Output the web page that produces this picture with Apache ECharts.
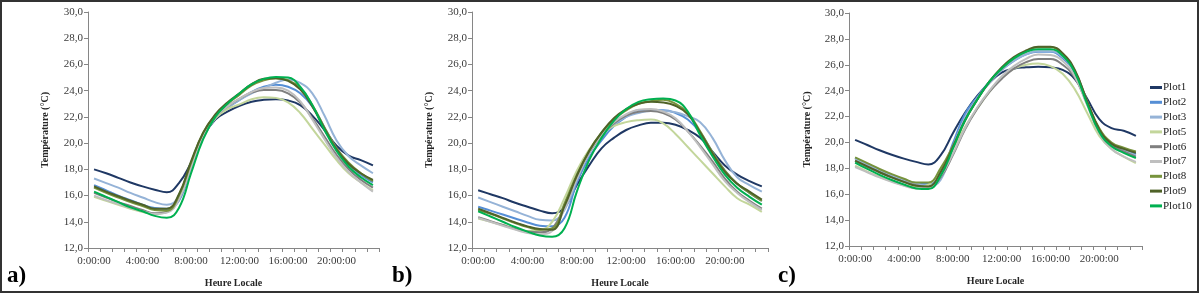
<!DOCTYPE html>
<html><head><meta charset="utf-8">
<script src="https://cdn.jsdelivr.net/npm/echarts@6/dist/echarts.min.js"></script>
<style>html,body{margin:0;padding:0;background:#fff}#c{width:1200px;height:297px}</style>
</head><body><div id="c"></div>
<script>
const hours = ['0:00:00','1:00:00','2:00:00','3:00:00','4:00:00','5:00:00','6:00:00','7:00:00','8:00:00','9:00:00','10:00:00','11:00:00','12:00:00','13:00:00','14:00:00','15:00:00','16:00:00','17:00:00','18:00:00','19:00:00','20:00:00','21:00:00','22:00:00','23:00:00'];
const plotNames = ['Plot1','Plot2','Plot3','Plot5','Plot6','Plot7','Plot8','Plot9','Plot10'];
const plotColors = ['#1F3864','#558ED5','#95B3D7','#C3D69B','#7F7F7F','#BFBFBF','#77933C','#4F6228','#00B050'];
const panelLabels = ['a)','b)','c)'];
const yMin = 12, yMax = 30, yStep = 2;

// Panel a
const a_plot1  = [18.0,17.7,17.35,17.0,16.7,16.45,16.25,16.95,18.5,20.5,21.8,22.4,22.85,23.15,23.3,23.35,23.25,22.9,22.1,21.0,19.8,19.05,18.7,18.3];
const a_plot2  = [16.8,16.4,16.0,15.65,15.3,15.05,15.0,15.6,18.1,20.5,21.9,22.7,23.3,23.9,24.3,24.45,24.3,23.8,22.8,21.2,19.6,18.4,17.6,17.0];
const a_plot3  = [17.3,16.95,16.6,16.2,15.85,15.5,15.3,15.9,18.0,20.4,21.9,22.7,23.3,23.8,24.2,24.6,24.85,24.6,23.8,22.1,20.2,19.0,18.3,17.7];
const a_plot5  = [15.9,15.6,15.3,15.0,14.75,14.6,14.75,16.0,18.4,20.6,21.9,22.6,22.95,23.35,23.5,23.45,23.1,22.3,21.1,19.9,18.7,17.7,17.0,16.4];
const a_plot6  = [16.2,15.85,15.5,15.2,14.9,14.65,14.75,15.8,18.3,20.6,22.0,22.8,23.4,23.85,24.05,24.05,23.8,23.1,21.9,20.5,19.1,18.0,17.2,16.6];
const a_plot7  = [16.0,15.65,15.35,15.05,14.8,14.6,14.7,15.7,18.2,20.6,22.0,22.8,23.4,23.9,24.2,24.25,24.0,23.2,21.8,20.3,18.9,17.8,17.0,16.3];
const a_plot8  = [16.6,16.2,15.85,15.5,15.2,14.9,14.85,16.0,18.5,20.8,22.1,23.0,23.7,24.4,24.8,24.95,24.8,24.2,22.9,21.2,19.6,18.5,17.7,17.1];
const a_plot9  = [16.7,16.3,15.95,15.6,15.3,15.0,15.0,16.1,18.6,20.8,22.2,23.1,23.8,24.5,24.9,24.95,24.75,24.1,22.8,21.1,19.5,18.4,17.7,17.2];
const a_plot10 = [16.3,15.9,15.5,15.1,14.8,14.45,14.3,15.05,17.7,20.3,22.0,23.0,23.8,24.5,24.9,25.05,25.0,24.3,22.9,21.0,19.4,18.2,17.4,16.8];

// Panel b
const b_plot1  = [16.4,16.1,15.8,15.45,15.15,14.85,14.65,15.1,16.8,18.3,19.6,20.4,21.0,21.35,21.55,21.55,21.4,21.0,20.4,19.35,18.3,17.6,17.1,16.7];
const b_plot2  = [15.15,14.85,14.55,14.25,13.95,13.7,13.65,14.3,17.0,18.9,20.2,21.3,22.0,22.5,22.5,22.5,22.3,21.8,20.8,19.3,17.9,16.9,16.2,15.6];
const b_plot3  = [15.85,15.5,15.15,14.8,14.45,14.15,14.1,14.9,17.2,19.2,20.5,21.4,22.0,22.3,22.45,22.45,22.35,22.05,21.6,20.4,18.7,17.4,16.8,16.3];
const b_plot5  = [14.25,14.0,13.75,13.5,13.3,13.35,14.0,15.8,17.9,19.5,20.7,21.3,21.6,21.75,21.8,21.5,20.7,19.7,18.7,17.7,16.7,15.8,15.3,14.75];
const b_plot6  = [14.35,14.05,13.75,13.45,13.25,13.2,13.5,15.2,17.5,19.3,20.6,21.5,22.1,22.4,22.45,22.3,21.8,20.9,19.8,18.6,17.3,16.3,15.6,15.0];
const b_plot7  = [14.3,14.0,13.7,13.4,13.15,13.05,13.3,15.0,17.3,19.3,20.6,21.6,22.2,22.55,22.6,22.4,21.9,20.9,19.7,18.4,17.1,16.2,15.5,14.9];
const b_plot8  = [14.9,14.6,14.25,13.9,13.6,13.4,13.5,15.4,17.6,19.4,20.8,21.8,22.5,23.0,23.2,23.3,23.0,22.3,20.9,19.3,17.9,16.9,16.2,15.6];
const b_plot9  = [15.0,14.65,14.3,13.95,13.65,13.45,13.4,15.2,17.5,19.4,20.8,21.9,22.6,23.0,23.15,23.1,22.85,22.2,20.8,19.2,17.8,16.9,16.3,15.7];
const b_plot10 = [14.8,14.4,14.0,13.6,13.25,12.95,12.85,13.5,16.3,18.7,20.4,21.7,22.6,23.15,23.35,23.4,23.25,22.4,20.6,19.0,17.6,16.6,15.9,15.3];

// Panel c
const c_plot1  = [20.2,19.8,19.4,19.05,18.75,18.5,18.3,19.0,20.7,22.3,23.6,24.6,25.4,25.7,25.8,25.85,25.8,25.6,24.9,23.4,21.8,21.1,20.9,20.5];
const c_plot2  = [18.8,18.3,17.85,17.45,17.1,16.85,16.8,17.5,19.9,22.2,23.5,24.7,25.6,26.3,26.8,27.0,27.0,26.5,25.4,23.1,21.0,19.9,19.5,19.1];
const c_plot3  = [18.75,18.3,17.85,17.45,17.1,16.85,16.6,17.1,19.6,21.9,23.4,24.6,25.6,26.3,26.8,27.05,27.05,26.6,25.5,23.2,21.0,19.9,19.4,19.0];
const c_plot5  = [18.2,17.75,17.35,17.0,16.7,16.55,16.75,17.8,19.5,21.2,22.6,23.9,25.0,25.7,26.0,26.1,25.9,25.3,24.1,22.3,20.5,19.5,18.9,18.4];
const c_plot6  = [18.55,18.1,17.7,17.3,16.95,16.7,16.55,17.3,19.0,21.0,22.6,23.9,24.9,25.7,26.2,26.45,26.45,26.0,25.0,23.0,21.0,19.8,19.3,18.9];
const c_plot7  = [18.1,17.7,17.3,16.95,16.65,16.45,16.5,17.4,19.1,21.1,22.7,24.0,25.1,25.9,26.45,26.8,26.75,26.3,25.1,22.9,20.7,19.5,18.9,18.5];
const c_plot8  = [18.85,18.4,17.95,17.55,17.2,16.9,16.9,18.0,19.7,21.7,23.3,24.7,25.7,26.5,27.0,27.35,27.35,26.8,25.5,23.2,21.1,20.0,19.6,19.3];
const c_plot9  = [18.6,18.15,17.7,17.3,16.95,16.65,16.6,17.7,19.6,21.7,23.3,24.7,25.8,26.6,27.1,27.4,27.4,26.9,25.6,23.2,21.0,19.9,19.5,19.2];
const c_plot10 = [18.45,17.95,17.5,17.1,16.75,16.45,16.4,17.4,19.5,21.7,23.3,24.7,25.7,26.5,27.0,27.2,27.2,26.7,25.4,23.0,20.8,19.7,19.2,18.8];

const panelData = [
  [a_plot1,a_plot2,a_plot3,a_plot5,a_plot6,a_plot7,a_plot8,a_plot9,a_plot10],
  [b_plot1,b_plot2,b_plot3,b_plot5,b_plot6,b_plot7,b_plot8,b_plot9,b_plot10],
  [c_plot1,c_plot2,c_plot3,c_plot5,c_plot6,c_plot7,c_plot8,c_plot9,c_plot10]
];

const FONT = '"Liberation Serif","Times New Roman",serif';
const grids = [
  {left: 88, top: 12, width: 291, height: 236},
  {left: 472, top: 12, width: 296, height: 236},
  {left: 849, top: 13, width: 293, height: 233}
];
const yNameGaps = [38, 38, 37];
const labelPos = [[7, 278], [392, 278], [778, 278]];
const axisCol = '#868686';
const labCol = '#3a3a3a';

const xAxes = grids.map((g, i) => ({
  type: 'category', gridIndex: i, data: hours, boundaryGap: true,
  axisLine: {lineStyle: {color: axisCol, width: 1}},
  axisTick: {show: true, interval: 0, length: 4, lineStyle: {color: axisCol}},
  axisLabel: {interval: 3, color: labCol, fontFamily: FONT, fontSize: 11, margin: 8},
  name: 'Heure Locale', nameLocation: 'middle', nameGap: 30,
  nameTextStyle: {fontFamily: FONT, fontWeight: 'bold', fontSize: 10, color: '#262626'},
  splitLine: {show: false}
}));
const yAxes = grids.map((g, i) => ({
  type: 'value', gridIndex: i, min: yMin, max: yMax, interval: yStep,
  axisLine: {show: true, lineStyle: {color: axisCol, width: 1}},
  axisTick: {show: true, length: 4, lineStyle: {color: axisCol}},
  axisLabel: {color: labCol, fontFamily: FONT, fontSize: 11, margin: 5,
    formatter: v => v.toFixed(1).replace('.', ',')},
  splitLine: {show: false},
  name: 'Température (°C)', nameLocation: 'middle', nameGap: yNameGaps[i], nameRotate: 90,
  nameTextStyle: {fontFamily: FONT, fontWeight: 'bold', fontSize: 10, color: '#262626'}
}));

const series = [];
panelData.forEach((arrs, p) => {
  arrs.forEach((arr, k) => {
    series.push({
      type: 'line', name: plotNames[k], xAxisIndex: p, yAxisIndex: p,
      data: arr, smooth: 0.45, showSymbol: false, symbol: 'none',
      lineStyle: {color: plotColors[k], width: 2},
      itemStyle: {color: plotColors[k]},
      silent: true, animation: false
    });
  });
});

const graphics = panelLabels.map((t, i) => ({
  type: 'text', left: labelPos[i][0], top: labelPos[i][1] - 13,
  style: {text: t, fontFamily: FONT, fontWeight: 'bold', fontSize: 23, fill: '#000'}
}));
graphics.push({
  type: 'rect', shape: {x: 1, y: 1, width: 1197, height: 291},
  style: {fill: 'none', stroke: '#333', lineWidth: 2}, silent: true
});

const chart = echarts.init(document.getElementById('c'), null, {renderer: 'canvas'});
chart.setOption({
  animation: false,
  backgroundColor: '#fff',
  grid: grids,
  xAxis: xAxes,
  yAxis: yAxes,
  legend: {
    orient: 'vertical', left: 1150, top: 82, itemGap: 3.8,
    itemWidth: 12, itemHeight: 3, icon: 'rect',
    data: plotNames,
    textStyle: {fontFamily: FONT, fontSize: 11, color: '#1a1a1a', padding: [0,0,0,-4]},
    padding: 0
  },
  series: series,
  graphic: graphics
});
</script>
</body></html>
